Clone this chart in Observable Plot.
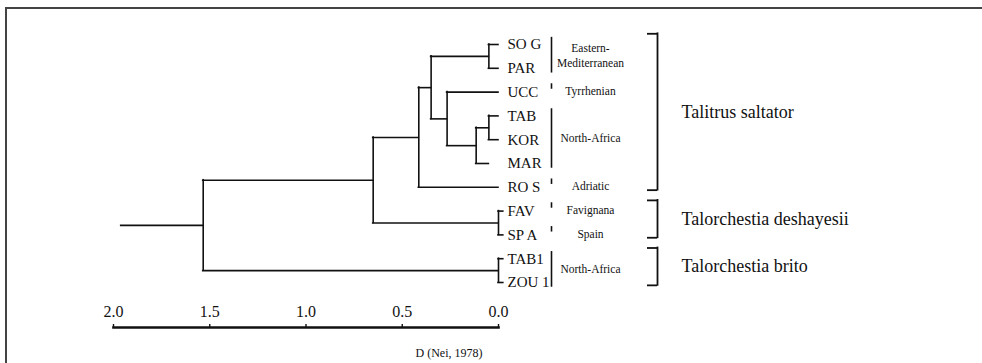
<!DOCTYPE html>
<html>
<head>
<meta charset="utf-8">
<script src="https://cdn.jsdelivr.net/npm/d3@7"></script>
<script src="https://cdn.jsdelivr.net/npm/@observablehq/plot@0.6"></script>
<style>
  body { margin: 0; background: #fff; }
  #wrap { position: relative; width: 982px; height: 363px; overflow: hidden; }
  #border { position: absolute; left: 5px; top: 7px; width: 1000px; height: 400px;
            border-left: 2px solid #444; border-top: 2px solid #444; }
  #chart { position: absolute; left: 0; top: 0; }
  #chart svg, #chart svg text, #chart svg g { font-family: "Liberation Serif", "Times New Roman", "DejaVu Serif", serif !important; }
</style>
</head>
<body>
<div id="wrap"><div id="border"></div><div id="chart"></div></div>
<script>
// ---- data ----
const leaves = ["SO G", "PAR", "UCC", "TAB", "KOR", "MAR", "RO S", "FAV", "SP A", "TAB1", "ZOU 1"];
const leafTip = [0, 0, 0, 0, 0, 0.05, 0, -0.025, -0.025, -0.025, -0.025];
// merges in order: node n(i+1) joins mergeLeft[i] and mergeRight[i] at distance mergeHeight[i]
const mergeLeft   = ["SO G", "TAB", "n2",  "UCC", "n1", "n5",   "FAV",  "n6",  "TAB1",  "n8"];
const mergeRight  = ["PAR",  "KOR", "MAR", "n3",  "n4", "RO S", "SP A", "n7",  "ZOU 1", "n9"];
const mergeHeight = [0.05,   0.05,  0.116, 0.267, 0.35, 0.414,  0,      0.651, 0,       1.534];
const rootStem = 1.96;
const axisTicks = [2.0, 1.5, 1.0, 0.5, 0.0];
const axisLabel = "D (Nei, 1978)";
const regionNames = ["Eastern-\nMediterranean", "Tyrrhenian", "North-Africa", "Adriatic", "Favignana", "Spain", "North-Africa"];
const regionFirst = ["SO G", "UCC", "TAB", "RO S", "FAV", "SP A", "TAB1"];
const regionLast  = ["PAR",  "UCC", "MAR", "RO S", "FAV", "SP A", "ZOU 1"];
const speciesNames = ["Talitrus saltator", "Talorchestia deshayesii", "Talorchestia brito"];
const speciesFirst = ["SO G", "FAV", "TAB1"];
const speciesLast  = ["RO S", "SP A", "ZOU 1"];

// ---- build dendrogram segments ----
const pos = new Map();
leaves.forEach((l, i) => pos.set(l, {x: leafTip[i], y: i}));
const hSeg = [], vSeg = [];
mergeLeft.forEach((a, i) => {
  const A = pos.get(a), B = pos.get(mergeRight[i]), h = mergeHeight[i];
  vSeg.push({x: h, y1: A.y, y2: B.y});
  hSeg.push({x1: h, x2: A.x, y: A.y}, {x1: h, x2: B.x, y: B.y});
  pos.set("n" + (i + 1), {x: h, y: (A.y + B.y) / 2});
});
const root = pos.get("n" + mergeLeft.length);
hSeg.push({x1: rootStem, x2: root.x, y: root.y});

const idx = (l) => leaves.indexOf(l);
const leafData = leaves.map((l, i) => ({name: l, y: i}));
const regions = regionNames.map((n, i) => {
  const a = idx(regionFirst[i]), b = idx(regionLast[i]);
  const single = a === b;
  return {name: n, y: (a + b) / 2,
          y1: single ? a - 0.35 : a - 0.3,
          y2: single ? a - 0.12 : b + 0.2};
});
const species = speciesNames.map((n, i) => {
  const a = idx(speciesFirst[i]), b = idx(speciesLast[i]);
  const y1 = a - 0.45, y2 = b + 0.12;
  return {name: n, y1, y2, y: (y1 + y2) / 2};
});

const ink = "#111";
const chart = Plot.plot({
  width: 982,
  height: 363,
  marginLeft: 113,
  marginRight: 484,
  marginTop: 327,
  marginBottom: 0,
  style: {color: ink, background: "transparent"},
  x: {domain: [2, 0]},
  y: {type: "linear", domain: [0, leaves.length - 1], range: [44, 282], axis: null},
  marks: [
    // dendrogram
    Plot.ruleY(hSeg, {x1: "x1", x2: "x2", y: "y", stroke: ink, strokeWidth: 1.6, strokeLinecap: "square"}),
    Plot.ruleX(vSeg, {x: "x", y1: "y1", y2: "y2", stroke: ink, strokeWidth: 1.6, strokeLinecap: "square"}),
    // leaf labels
    Plot.text(leafData, {x: () => 0, y: "y", text: "name", dx: 9, textAnchor: "start", fontSize: 15, fill: ink}),
    // region separators and labels
    Plot.ruleX(regions, {x: () => 0, y1: "y1", y2: "y2", dx: 53, stroke: ink, strokeWidth: 1.6}),
    Plot.text(regions, {x: () => 0, y: "y", text: "name", dx: 92, dy: -2, textAnchor: "middle", fontSize: 11.5, lineHeight: 1.3, fill: ink}),
    // species brackets
    Plot.ruleX(species, {x: () => 0, y1: "y1", y2: "y2", dx: 159, stroke: ink, strokeWidth: 1.8, strokeLinecap: "square"}),
    Plot.ruleY(species, {y: "y1", x1: () => 0, x2: () => 0, dx: 154, insetLeft: -5, insetRight: -5, stroke: ink, strokeWidth: 1.8}),
    Plot.ruleY(species, {y: "y2", x1: () => 0, x2: () => 0, dx: 154, insetLeft: -5, insetRight: -5, stroke: ink, strokeWidth: 1.8}),
    Plot.text(species, {x: () => 0, y: "y", text: "name", dx: 183, textAnchor: "start", fontSize: 18, fill: ink}),
    // scale axis
    Plot.frame({anchor: "top", stroke: ink, strokeWidth: 2.6}),
    Plot.axisX({anchor: "top", ticks: axisTicks, tickFormat: d3.format(".1f"), tickSize: 4, tickPadding: 7,
                fontSize: 16, strokeWidth: 1.4, label: null}),
    Plot.text([axisLabel], {x: () => 0, frameAnchor: "top", text: (d) => d, dx: -16, dy: 21, textAnchor: "end", fontSize: 12, fill: ink})
  ]
});
document.getElementById("chart").appendChild(chart);
</script>
</body>
</html>
